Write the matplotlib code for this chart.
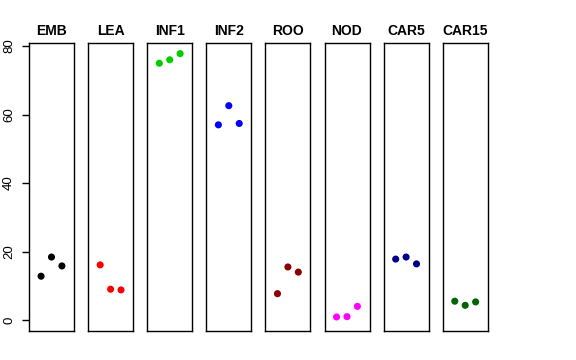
import numpy as np
import matplotlib
matplotlib.use("Agg")
import matplotlib.pyplot as plt

plt.rcParams['font.family'] = ['Liberation Sans', 'DejaVu Sans']

# tissue panels
tissues = ["EMB", "LEA", "INF1", "INF2", "ROO", "NOD", "CAR5", "CAR15"]
colors = ["black", "red", "#00CD00", "blue", "#8B0000", "magenta", "#00008B", "#006400"]

# three replicates per tissue
emb = [12.8, 18.4, 15.8]
lea = [16.1, 9.0, 8.8]
inf1 = [75.0, 76.0, 77.8]
inf2 = [57.0, 62.6, 57.4]
roo = [7.7, 15.5, 14.0]
nod = [0.9, 1.0, 4.0]
car5 = [17.8, 18.4, 16.4]
car15 = [5.5, 4.3, 5.3]
values = [emb, lea, inf1, inf2, roo, nod, car5, car15]

rep = [1, 2, 3]
yticks = [0, 20, 40, 60, 80]

fig = plt.figure(figsize=(5.76, 3.6), dpi=100)
W, H = 576.0, 360.0
left0 = 29
step = 59.1
pw = 45
bottom = 29
ph = 288

for i, (name, col, vals) in enumerate(zip(tissues, colors, values)):
    ax = fig.add_axes([(left0 + i * step) / W, bottom / H, pw / W, ph / H])
    ax.scatter(rep, vals, s=26, color=col, edgecolors='none', zorder=3)
    ax.set_xlim(-0.16, 4.16)
    ax.set_ylim(-3.2, 80.9)
    ax.set_xticks([])
    ax.set_title(name, fontsize=10, fontweight='bold', pad=6)
    for sp in ax.spines.values():
        sp.set_linewidth(1.0)
        sp.set_color('black')
    if i == 0:
        ax.set_yticks(yticks)
        ax.set_yticklabels([str(t) for t in yticks], rotation=90, va='center', fontsize=9.5)
        ax.tick_params(axis='y', length=5, width=1, pad=5)
    else:
        ax.set_yticks([])

fig.savefig("out.png", dpi=100)
